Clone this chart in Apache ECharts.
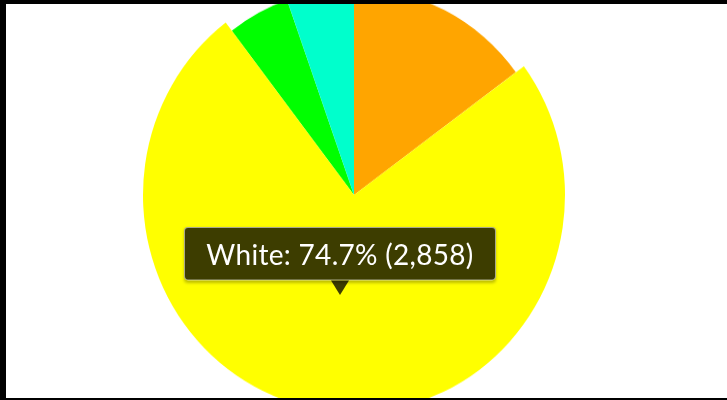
<!DOCTYPE html>
<html>
<head>
<meta charset="utf-8">
<script src="https://cdn.jsdelivr.net/npm/echarts@6/dist/echarts.min.js"></script>
<style>
  html, body { margin: 0; padding: 0; background: #000; width: 727px; height: 400px; overflow: hidden; }
  #frame { position: absolute; left: 6px; top: 4px; width: 721px; height: 394px; background: #fff; overflow: hidden; }
  #chart { position: absolute; left: 0; top: 0; width: 721px; height: 394px; transform: scaleY(1.03); transform-origin: 348px 191px; }
</style>
</head>
<body>
<div id="frame"><div id="chart"></div></div>
<script>
// Data
const categories = ['Hispanic', 'White', 'Black', 'Asian'];
const values = [570, 2858, 191, 207];
const colors = ['#FFA500', '#FFFF00', '#00FF00', '#00FFCC'];
const highlightedIndex = 1;

const chart = echarts.init(document.getElementById('chart'), null, { renderer: 'canvas' });

const data = categories.map((name, i) => ({ name: name, value: values[i] }));

chart.setOption({
  animation: false,
  stateAnimation: { duration: 0 },
  color: colors,
  tooltip: {
    trigger: 'item',
    alwaysShowContent: true,
    transitionDuration: 0,
    backgroundColor: 'rgba(0,0,0,0.76)',
    borderColor: 'rgba(255,255,255,0.55)',
    borderWidth: 1,
    borderRadius: 4,
    padding: [0, 0],
    extraCssText: 'box-shadow: 0 2px 3px rgba(0,0,0,0.25); overflow: visible;',
    textStyle: { color: '#fff', fontFamily: 'Lato', fontSize: 28 },
    position: function () { return [178, 222]; },
    formatter: function (p) {
      const v = p.value.toLocaleString('en-US');
      return '<div style="position:relative;width:310px;text-align:center;line-height:50px;height:50px;white-space:nowrap;font-family:Lato;font-size:28px;letter-spacing:0.3px;color:#fff;">' +
        p.name + ': ' + p.percent.toFixed(1) + '% (' + v + ')' +
        '<div style="position:absolute;left:50%;margin-left:-9px;top:51px;width:0;height:0;border-left:9px solid transparent;border-right:9px solid transparent;border-top:14px solid rgba(0,0,0,0.76);"></div>' +
        '</div>';
    }
  },
  series: [{
    type: 'pie',
    center: [348, 191],
    radius: [0, 201],
    startAngle: 90,
    clockwise: true,
    avoidLabelOverlap: false,
    label: { show: false },
    labelLine: { show: false },
    itemStyle: { borderWidth: 0 },
    emphasis: { scale: true, scaleSize: 10, label: { show: false } },
    data: data
  }]
});

chart.dispatchAction({ type: 'highlight', seriesIndex: 0, dataIndex: highlightedIndex });
chart.dispatchAction({ type: 'showTip', seriesIndex: 0, dataIndex: highlightedIndex });
</script>
</body>
</html>
